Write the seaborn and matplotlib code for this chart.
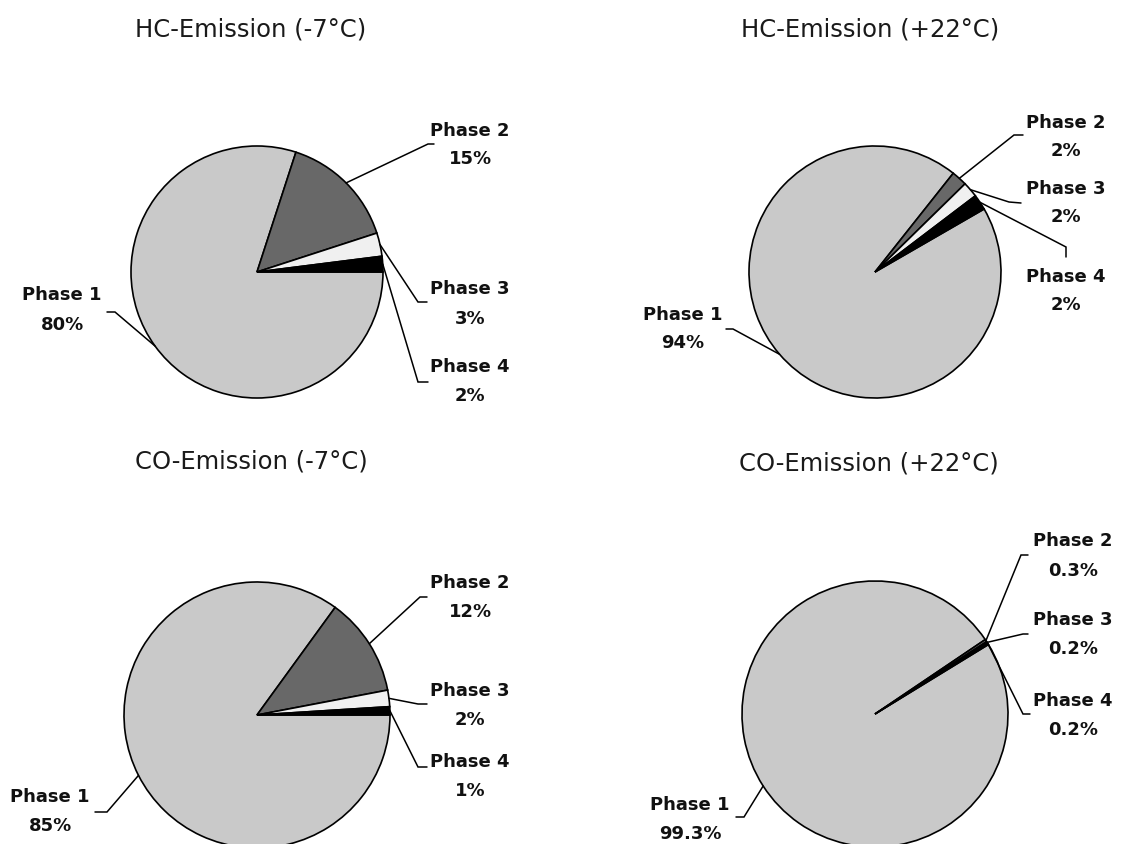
import matplotlib
matplotlib.use("Agg")
import matplotlib.pyplot as plt
import seaborn as sns
import numpy as np

# Share of emissions per test phase
phases = ["Phase 1", "Phase 2", "Phase 3", "Phase 4"]
hc_cold = [80, 15, 3, 2]
hc_warm = [94, 2, 2, 2]
co_cold = [85, 12, 2, 1]
co_warm = [99.3, 0.3, 0.2, 0.2]
titles = ["HC-Emission (-7°C)", "HC-Emission (+22°C)",
          "CO-Emission (-7°C)", "CO-Emission (+22°C)"]

W, H = 1145, 845

sns.set_theme(style="white")
plt.rcParams["font.family"] = ["DejaVu Sans"]
wedge_colors = sns.color_palette(["#c9c9c9", "#686868", "#f0f0f0", "#000000"])

fig = plt.figure(figsize=(W / 100, H / 100), dpi=100)
ax = fig.add_axes([0, 0, 1, 1])


def up(y):
    """Convert a top-down pixel row into the axes' upward y coordinate."""
    return H - y


# Layout for each panel in pixels (origin top-left): title position, pie
# centre/radius/start angle, and for every phase the label block centre plus
# the elbow and end of its leader line.
panels = [
    dict(values=hc_cold, title=titles[0], title_xy=(251, 30),
         center=(257, 273), radius=126, start=0,
         labels=[((62, 310), (115, 313), (107, 313)),
                 ((470, 145), (428, 145), (434, 145)),
                 ((470, 304), (418, 303), (427, 303)),
                 ((470, 382), (418, 383), (428, 383))]),
    dict(values=hc_warm, title=titles[1], title_xy=(870, 30),
         center=(875, 273), radius=126, start=30,
         labels=[((683, 329), (733, 330), (726, 330)),
                 ((1066, 137), (1014, 136), (1023, 136)),
                 ((1066, 203), (1009, 203), (1021, 204)),
                 ((1066, 291), (1066, 248), (1066, 258))]),
    dict(values=co_cold, title=titles[2], title_xy=(251, 462),
         center=(257, 716), radius=133, start=0,
         labels=[((50, 812), (107, 813), (95, 813)),
                 ((470, 598), (420, 598), (427, 598)),
                 ((470, 706), (418, 705), (427, 705)),
                 ((470, 777), (418, 768), (427, 768))]),
    dict(values=co_warm, title=titles[3], title_xy=(869, 464),
         center=(875, 715), radius=133, start=31.5,
         labels=[((690, 820), (744, 818), (736, 818)),
                 ((1073, 556), (1021, 556), (1028, 556)),
                 ((1073, 635), (1023, 635), (1028, 635)),
                 ((1073, 716), (1023, 715), (1030, 715))]),
]

for p in panels:
    vals = np.asarray(p["values"], dtype=float)
    cx, cy = p["center"]
    r = p["radius"]
    ax.pie(vals, colors=wedge_colors, startangle=p["start"], counterclock=False,
           center=(cx, up(cy)), radius=r, normalize=True,
           wedgeprops=dict(edgecolor="black", linewidth=1.2))

    ax.text(p["title_xy"][0], up(p["title_xy"][1]), p["title"],
            ha="center", va="center", fontsize=17.5, color="#1a1a1a")

    # leader lines start on the rim at the middle of each wedge
    cum = np.concatenate([[0], np.cumsum(vals)]) / vals.sum()
    for i, (name, v) in enumerate(zip(phases, vals)):
        mid = np.deg2rad(p["start"] - 360 * (cum[i] + cum[i + 1]) / 2)
        sx, sy = cx + r * np.cos(mid), cy - r * np.sin(mid)
        (lx, ly), (ex, ey), (fx, fy) = p["labels"][i]
        ax.plot([sx, ex, fx], [up(sy), up(ey), up(fy)], color="black",
                lw=1.1, solid_joinstyle="miter")
        ax.text(lx, up(ly - 14.5), name, ha="center", va="center",
                fontsize=13, fontweight="bold", color="#111111")
        ax.text(lx, up(ly + 14.5), f"{v:g}%", ha="center", va="center",
                fontsize=13, fontweight="bold", color="#111111")

ax.set_xlim(0, W)
ax.set_ylim(0, H)
ax.set_aspect("equal")
ax.axis("off")

fig.savefig("out.png", dpi=100, facecolor="white")
